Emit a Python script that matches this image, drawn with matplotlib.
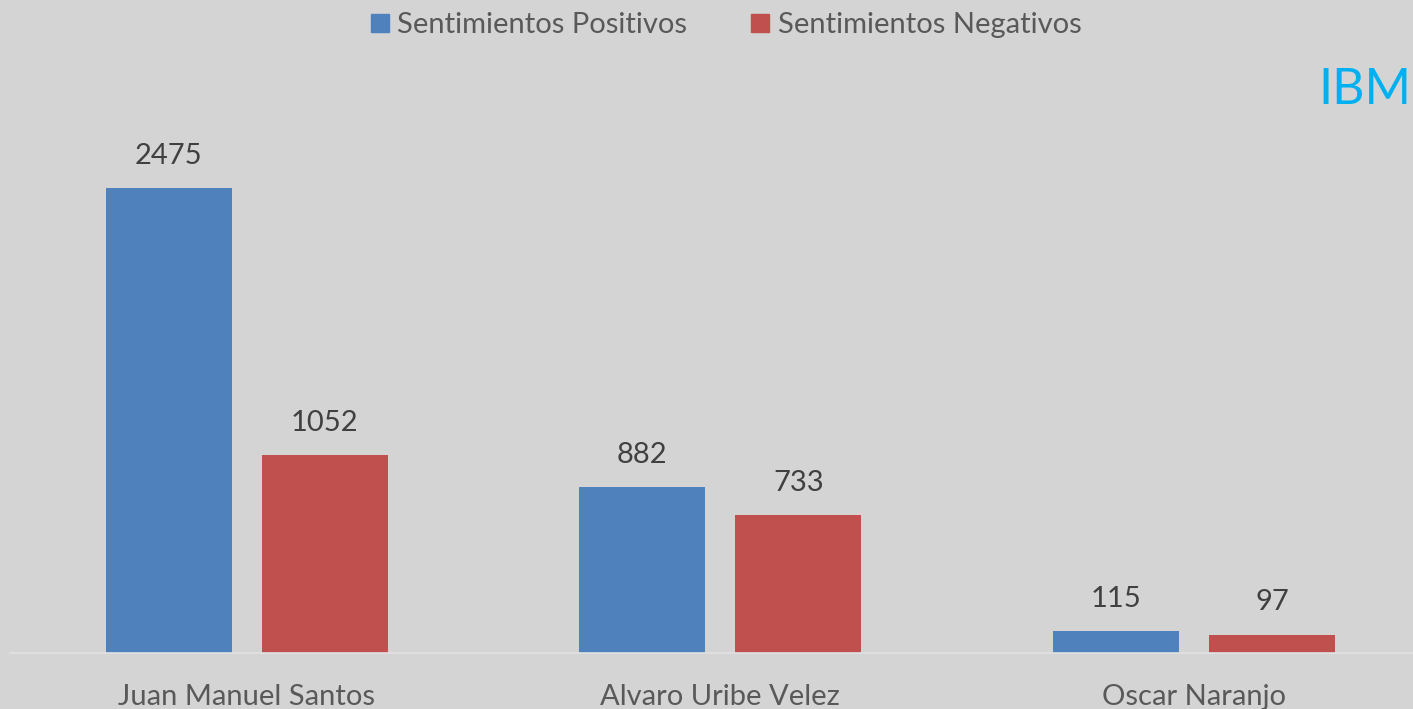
import matplotlib.pyplot as plt
from matplotlib.patches import Patch
import numpy as np

categories = ['Juan Manuel Santos', 'Alvaro Uribe Velez', 'Oscar Naranjo']
positivos = [2475, 882, 115]
negativos = [1052, 733, 97]
series_names = ['Sentimientos Positivos', 'Sentimientos Negativos']

blue = '#4f81bd'
red = '#c0504d'
bg = '#d4d4d4'
text_col = '#595959'

plt.rcParams['font.family'] = ['Lato', 'DejaVu Sans']

W, H = 1413, 709
fig = plt.figure(figsize=(W / 100, H / 100), dpi=100, facecolor=bg)

# axes placed in pixel terms so the bars land where the reference has them
px_per_unit = 465 / 2475
ax_left, ax_bottom_px, ax_top_px = 10, 653, 120
ax_width = 1420.5
ax = fig.add_axes([ax_left / W, (H - ax_bottom_px) / H, ax_width / W, (ax_bottom_px - ax_top_px) / H])
ax.set_facecolor(bg)
ax.set_xlim(-0.5, len(categories) - 0.5)
ax.set_ylim(0, (ax_bottom_px - ax_top_px) / px_per_unit)

x = np.arange(len(categories))
bw = 0.266
off = (bw + 0.064) / 2
b1 = ax.bar(x - off, positivos, bw, color=blue)
b2 = ax.bar(x + off, negativos, bw, color=red)

for bars in (b1, b2):
    for rect in bars:
        h = rect.get_height()
        ax.annotate(str(int(h)), (rect.get_x() + rect.get_width() / 2, h),
                    xytext=(0, 14), textcoords='offset points', ha='center',
                    va='bottom', fontsize=21, color='#404040')

for s in ['top', 'right', 'left']:
    ax.spines[s].set_visible(False)
ax.spines['bottom'].set_color('#e2e2e2')
ax.spines['bottom'].set_linewidth(1.2)
ax.set_yticks([])
ax.set_xticks(x)
ax.set_xticklabels(categories, fontsize=21, color=text_col)
ax.tick_params(axis='x', length=0, pad=22)

handles = [Patch(color=blue), Patch(color=red)]
fig.legend(handles, series_names, loc='upper center', bbox_to_anchor=(0.514, 1.02),
           ncol=2, frameon=False, fontsize=21, labelcolor=text_col,
           handlelength=0.6, handleheight=0.6, handletextpad=0.3, columnspacing=2.2)

fig.text(1411 / W, 1 - 90 / H, 'IBM', fontsize=36, color='#00b0f0',
         va='center', ha='right')

fig.savefig('out.png', dpi=100, facecolor=bg)
